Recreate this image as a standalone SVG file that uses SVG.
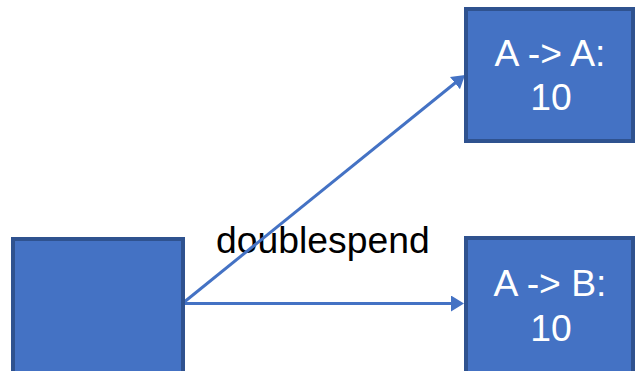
<svg xmlns="http://www.w3.org/2000/svg" width="636" height="371" viewBox="0 0 636 371">
  <style>
    .box { fill: #4472C4; stroke: #2F528F; stroke-width: 4; }
    .edge { stroke: #4472C4; stroke-width: 3; fill: none; marker-end: url(#arrow); }
    .label { font-family: "Liberation Sans", Arial, sans-serif; font-size: 37.3px; }
    .inbox { fill: #FFFFFF; text-anchor: middle; }
  </style>
  <defs>
    <marker id="arrow" markerUnits="userSpaceOnUse" markerWidth="14" markerHeight="17" refX="1" refY="8" orient="auto">
      <path d="M0,0 L13,8 L0,16 z" fill="#4472C4"/>
    </marker>
  </defs>

  <!-- connectors (label sits underneath the lines) -->
  <g id="connectors">
    <text class="label" x="216" y="253" fill="#000000">doublespend</text>
    <line class="edge" x1="183" y1="303.5" x2="452" y2="303.5"/>
    <line class="edge" x1="183" y1="303" x2="455.7" y2="82.5"/>
  </g>

  <!-- source block -->
  <g id="source">
    <rect class="box" x="13" y="239" width="170" height="136"/>
  </g>

  <!-- transaction A to A -->
  <g id="tx-aa">
    <rect class="box" x="466" y="9" width="167" height="132"/>
    <text class="label inbox" x="550" y="65.5">A -&gt; A:</text>
    <text class="label inbox" x="551" y="110">10</text>
  </g>

  <!-- transaction A to B -->
  <g id="tx-ab">
    <rect class="box" x="466" y="238" width="167" height="137"/>
    <text class="label inbox" x="550" y="296">A -&gt; B:</text>
    <text class="label inbox" x="551" y="340.5">10</text>
  </g>
</svg>
